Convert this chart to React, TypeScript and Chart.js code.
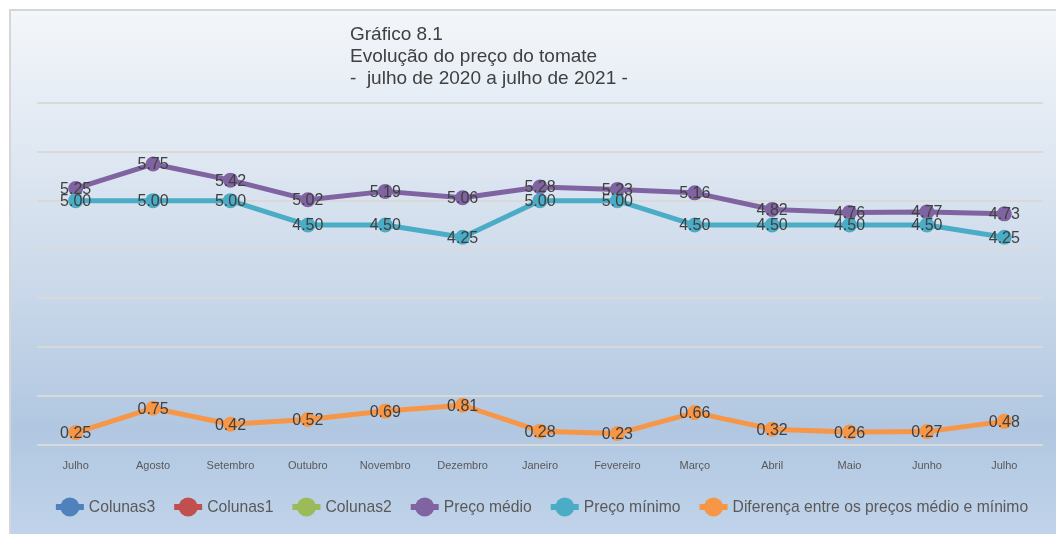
import React, { useEffect, useRef } from "react";
import { Chart, registerables } from "chart.js";

Chart.register(...registerables);

const categories = ["Julho", "Agosto", "Setembro", "Outubro", "Novembro", "Dezembro", "Janeiro", "Fevereiro", "Março", "Abril", "Maio", "Junho", "Julho"];
const precoMedio = [5.25, 5.75, 5.42, 5.02, 5.19, 5.06, 5.28, 5.23, 5.16, 4.82, 4.76, 4.77, 4.73];
const precoMinimo = [5.0, 5.0, 5.0, 4.5, 4.5, 4.25, 5.0, 5.0, 4.5, 4.5, 4.5, 4.5, 4.25];
const diferenca = [0.25, 0.75, 0.42, 0.52, 0.69, 0.81, 0.28, 0.23, 0.66, 0.32, 0.26, 0.27, 0.48];
const titleLines = ["Gráfico 8.1", "Evolução do preço do tomate", "-  julho de 2020 a julho de 2021 -"];
const legendLabels = ["Colunas3", "Colunas1", "Colunas2", "Preço médio", "Preço mínimo", "Diferença entre os preços médio e mínimo"];
const seriesColors = ["#4F81BD", "#C0504D", "#9BBB59", "#8064A2", "#4BACC6", "#F79646"];

const FONT = "'Liberation Sans', Arial, sans-serif";
const W = 1056;
const H = 534;

const backgroundPlugin = {
  id: "bgBox",
  beforeDraw(chart: any) {
    const ctx = chart.ctx;
    ctx.save();
    ctx.fillStyle = "#FFFFFF";
    ctx.fillRect(0, 0, W, H);
    const g = ctx.createLinearGradient(0, 10, 0, H);
    g.addColorStop(0, "#F3F6FA");
    g.addColorStop(0.3, "#DDE6F1");
    g.addColorStop(0.55, "#C8D7E9");
    g.addColorStop(0.8, "#B1C7E1");
    g.addColorStop(1, "#C0D3EA");
    ctx.fillStyle = g;
    ctx.fillRect(10, 10, W + 20, H + 20);
    ctx.strokeStyle = "#D6D6D6";
    ctx.lineWidth = 2;
    ctx.strokeRect(10, 10, W + 20, H + 20);
    ctx.restore();
  },
};

const titlePlugin = {
  id: "titleText",
  afterDraw(chart: any) {
    const ctx = chart.ctx;
    ctx.save();
    ctx.font = `19px ${FONT}`;
    ctx.fillStyle = "#404040";
    ctx.textAlign = "left";
    ctx.textBaseline = "middle";
    titleLines.forEach((t, i) => ctx.fillText(t, 350, 35 + i * 22));
    ctx.restore();
  },
};

const dataLabelPlugin = {
  id: "dataLabels",
  afterDatasetsDraw(chart: any) {
    const ctx = chart.ctx;
    ctx.save();
    ctx.font = `16px ${FONT}`;
    ctx.fillStyle = "#404040";
    ctx.textAlign = "center";
    ctx.textBaseline = "middle";
    chart.data.datasets.forEach((ds: any, di: number) => {
      const meta = chart.getDatasetMeta(di);
      meta.data.forEach((pt: any, i: number) => {
        const v = ds.data[i];
        if (v == null) return;
        ctx.fillText(Number(v).toFixed(2), pt.x, pt.y + 1);
      });
    });
    ctx.restore();
  },
};

const legendPlugin = {
  id: "customLegend",
  afterDraw(chart: any) {
    const ctx = chart.ctx;
    ctx.save();
    ctx.font = `15.7px ${FONT}`;
    const markerW = 28;
    const gapText = 5;
    const gapItem = 19;
    const items = chart.data.datasets.map((ds: any) => ({
      label: ds.label,
      color: ds.borderColor,
      w: markerW + gapText + ctx.measureText(ds.label).width,
    }));
    const total = items.reduce((s: number, it: any) => s + it.w, 0) + gapItem * (items.length - 1);
    let x = 542 - total / 2;
    const y = 507;
    items.forEach((it: any) => {
      ctx.strokeStyle = it.color;
      ctx.lineWidth = 6;
      ctx.beginPath();
      ctx.moveTo(x, y);
      ctx.lineTo(x + markerW, y);
      ctx.stroke();
      ctx.fillStyle = it.color;
      ctx.beginPath();
      ctx.arc(x + markerW / 2, y, 9.5, 0, Math.PI * 2);
      ctx.fill();
      ctx.fillStyle = "#595959";
      ctx.textAlign = "left";
      ctx.textBaseline = "middle";
      ctx.fillText(it.label, x + markerW + gapText, y + 1);
      x += it.w + gapItem;
    });
    ctx.restore();
  },
};

function lineDs(label: string, color: string, data: number[], order: number) {
  return {
    label,
    data,
    borderColor: color,
    backgroundColor: color,
    borderWidth: 5,
    pointRadius: 7.5,
    pointHoverRadius: 7.5,
    pointBorderWidth: 0,
    pointBackgroundColor: color,
    tension: 0,
    borderJoinStyle: "round",
    borderCapStyle: "round",
    fill: false,
    order,
  };
}

export default function App() {
  const ref = useRef<HTMLCanvasElement | null>(null);
  useEffect(() => {
    if (!ref.current) return;
    const chart = new Chart(ref.current, {
      type: "line",
      data: {
        labels: categories,
        datasets: [
          lineDs(legendLabels[0], seriesColors[0], [], 6),
          lineDs(legendLabels[1], seriesColors[1], [], 5),
          lineDs(legendLabels[2], seriesColors[2], [], 4),
          lineDs(legendLabels[3], seriesColors[3], precoMedio, 3),
          lineDs(legendLabels[4], seriesColors[4], precoMinimo, 2),
          lineDs(legendLabels[5], seriesColors[5], diferenca, 1),
        ] as any,
      },
      options: {
        animation: false,
        responsive: false,
        maintainAspectRatio: false,
        layout: { padding: { left: 37, right: 13, top: 103, bottom: 54 } },
        plugins: {
          legend: { display: false },
          title: { display: false },
          tooltip: { enabled: false },
        },
        scales: {
          x: {
            offset: true,
            grid: { display: false },
            border: { display: false },
            ticks: {
              color: "#595959",
              font: { family: FONT, size: 11 },
              padding: 7,
              maxRotation: 0,
              autoSkip: false,
            },
          },
          y: {
            min: 0,
            max: 7,
            ticks: { display: false, stepSize: 1 },
            grid: { color: "#D9D9D9", lineWidth: 2, drawTicks: false },
            border: { display: false },
          },
        },
      },
      plugins: [backgroundPlugin, dataLabelPlugin, titlePlugin, legendPlugin],
    });
    return () => chart.destroy();
  }, []);
  return (
    <div style={{ position: "fixed", left: 0, top: 0, width: W, height: H }}>
      <canvas ref={ref} width={W} height={H} style={{ display: "block" }} />
    </div>
  );
}
